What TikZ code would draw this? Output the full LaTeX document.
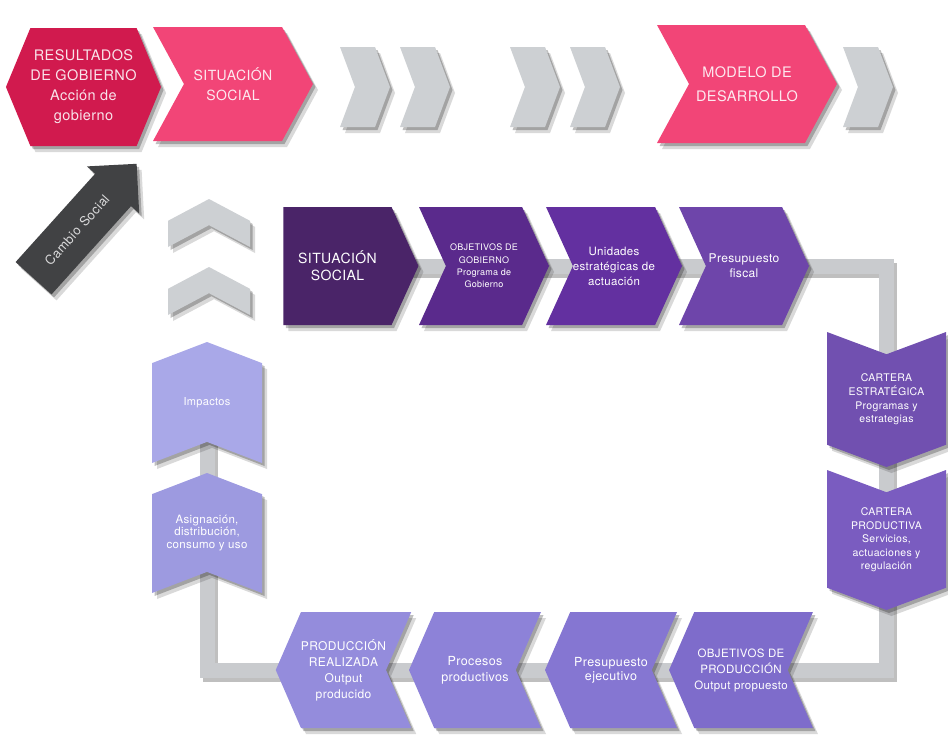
\documentclass[tikz,border=0pt]{standalone}
\usepackage{fontspec}
\setmainfont{TeX Gyre Heros}[LetterSpace=3]
\usepackage{tikz}
\usetikzlibrary{shapes.symbols,shapes.arrows,shadows,backgrounds}

\definecolor{carmin}{HTML}{D11A4E}
\definecolor{rosa}{HTML}{F24577}
\definecolor{perla}{HTML}{CDD0D3}
\definecolor{carbon}{HTML}{414244}
\definecolor{uva}{HTML}{4A2468}
\definecolor{morado}{HTML}{5A2A8C}
\definecolor{violeta}{HTML}{6330A0}
\definecolor{amatista}{HTML}{6E45AA}
\definecolor{cartest}{HTML}{7150B0}
\definecolor{cartprod}{HTML}{7A5CC0}
\definecolor{objprod}{HTML}{7E6CCB}
\definecolor{ejec}{HTML}{8576D2}
\definecolor{proc}{HTML}{8D82D8}
\definecolor{realiz}{HTML}{948CDC}
\definecolor{asig}{HTML}{9D9AE0}
\definecolor{impac}{HTML}{A9A8E8}
\definecolor{marcogris}{HTML}{C9CBCE}

\newcommand{\fs}[2]{\fontsize{#1}{#2}\selectfont}
% texto recto dentro de un nodo girado
\newcommand{\girado}[2]{\rotatebox{#1}{\begin{tabular}{@{}c@{}}#2\end{tabular}}}

\begin{document}
\begin{tikzpicture}
  [x=1pt,y=-1pt,
   sombra/.style={drop shadow={shadow xshift=5pt,shadow yshift=-6pt,opacity=.15,fill=black},
                  drop shadow={shadow xshift=2.5pt,shadow yshift=-3pt,opacity=.25,fill=black}},
   chev/.style={shape=signal,inner sep=0pt,align=center,text=white,sombra},
   rosado/.style={chev,fill=rosa,signal from=west,signal to=east,signal pointer angle=123,text=white!88!rosa},
   grisder/.style={chev,fill=perla,signal from=west,signal to=east,signal pointer angle=139,minimum width=50,minimum height=80},
   grisarr/.style={chev,fill=perla,rotate=90,signal from=west,signal to=east,signal pointer angle=124,minimum width=48,minimum height=82},
   fila/.style={chev,signal to=east,signal pointer angle=131,minimum width=130,minimum height=118},
   baja/.style={chev,rotate=-90,signal from=west,signal to=east,signal pointer angle=139,minimum height=119},
   vuelve/.style={chev,signal from=east,signal to=west,signal pointer angle=133,minimum width=132,minimum height=116},
   sube/.style={chev,rotate=90,signal from=west,signal to=east,signal pointer angle=138,minimum width=121,minimum height=110},
   marco/.style={line width=15pt,color=marcogris},
   marcosombra/.style={line width=15pt,black,opacity=.25,transform canvas={xshift=3pt,yshift=-4pt}}]
  \useasboundingbox (0,0) rectangle (948,734);

  % fila superior
  \node[chev,fill=carmin,signal to=east and west,signal pointer angle=135,
        minimum width=147,minimum height=118,font=\fs{14.5}{20},text=white!88!carmin]
        (resgob) at (83.5,87) {RESULTADOS\\DE GOBIERNO\\Acción de\\gobierno};
  \node[rosado,minimum width=160,minimum height=114,font=\fs{14}{20}] (sitsoc) at (233,84) {SITUACIÓN\\SOCIAL};
  \foreach \x [count=\i] in {365,425,535,595,868}
    \node[grisder] (flecha\i) at (\x,87) {};
  \node[rosado,minimum width=180,minimum height=118,font=\fs{14.5}{24}] (modelo) at (747,84) {MODELO DE\\DESARROLLO};

  \node[single arrow,fill=carbon,sombra,rotate=48,minimum height=154,minimum width=0pt,
        single arrow head extend=11,single arrow tip angle=90,inner xsep=0pt,inner ysep=19pt,
        text=white!80!carbon,font=\fs{13}{15}] (cambio) at (77,230) {Cambio\hspace{5pt}Social};

  \foreach \y [count=\i] in {223,291}
    \node[grisarr] (ascenso\i) at (209,\y) {};

  % ciclo
  \node[fila,fill=uva,minimum width=135,font=\fs{14}{17}] (sitini) at (337.5,266) {SITUACIÓN\\SOCIAL};
  \node[fila,fill=morado,signal from=west,font=\fs{9}{12.3}] (objgob) at (484,266) {OBJETIVOS DE\\GOBIERNO\\Programa de\\Gobierno};
  \node[fila,fill=violeta,signal from=west,font=\fs{11.5}{15}] (unidades) at (614,266) {Unidades\\estratégicas de\\actuación};
  \node[fila,fill=amatista,signal from=west,font=\fs{12}{15}] (presfis) at (744,266) {Presupuesto\\fiscal};

  \node[baja,fill=cartest,minimum width=135,font=\fs{10.5}{13.5}] (cartest) at (886.5,399.5)
    {\girado{90}{CARTERA\\ESTRATÉGICA\\Programas y\\estrategias}};
  \node[baja,fill=cartprod,minimum width=140,font=\fs{10.5}{13.5}] (cartprod) at (886.5,540)
    {\girado{90}{CARTERA\\PRODUCTIVA\\Servicios,\\actuaciones y\\regulación}};

  \node[vuelve,fill=objprod,font=\fs{11.5}{16}] (objprod) at (741,670) {OBJETIVOS DE\\PRODUCCIÓN\\Output propuesto};
  \node[vuelve,fill=ejec,font=\fs{12.5}{14}] (presejec) at (611,670) {Presupuesto\\ejecutivo};
  \node[vuelve,fill=proc,font=\fs{12.5}{16}] (procesos) at (475,670) {Procesos\\productivos};
  \node[vuelve,fill=realiz,font=\fs{12}{16}] (prodreal) at (343.5,670) {PRODUCCIÓN\\REALIZADA\\Output\\producido};

  \node[sube,fill=asig,minimum width=120,font=\fs{11.5}{12.5}] (asignacion) at (207,533)
    {\girado{-90}{Asignación,\\distribución,\\consumo y uso}};
  \node[sube,fill=impac,font=\fs{11}{13}] (impactos) at (207,402.5) {\girado{-90}{Impactos}};

  \begin{pgfonlayer}{background}
    \draw[marcosombra] (sitini.center) -- (sitini.center -| cartest.center) -- (cartest.center |- prodreal.center)
      -- (impactos.center |- prodreal.center) -- (impactos.center);
    \draw[marco] (sitini.center) -- (sitini.center -| cartest.center) -- (cartest.center |- prodreal.center)
      -- (impactos.center |- prodreal.center) -- (impactos.center);
  \end{pgfonlayer}
\end{tikzpicture}
\end{document}
